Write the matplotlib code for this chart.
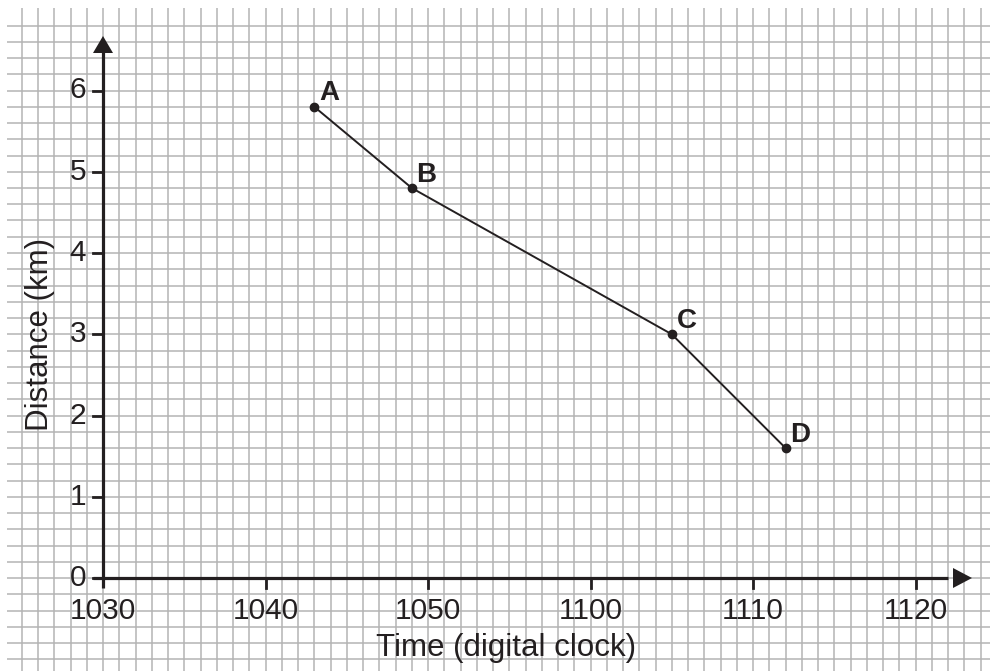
import matplotlib
matplotlib.use("Agg")
import matplotlib.pyplot as plt

# points
labels = ["A", "B", "C", "D"]
clock_times = [1043, 1049, 1105, 1112]
distances = [5.8, 4.8, 3.0, 1.6]

x_tick_clock = [1030, 1040, 1050, 1100, 1110, 1120]
y_ticks = [0, 1, 2, 3, 4, 5, 6]

plt.rcParams['font.family'] = ['Liberation Sans', 'DejaVu Sans']


def to_minutes(t):
    # digital clock reading -> minutes after 10:30
    return (t // 100) * 60 + t % 100 - (10 * 60 + 30)


xs = [to_minutes(t) for t in clock_times]
x_ticks = [to_minutes(t) for t in x_tick_clock]

W, H = 990, 671
ox, oy = 103, 578          # pixel position of the origin
sq = 16.25                 # pixels per small square (1 minute, 0.2 km)

fig = plt.figure(figsize=(W / 100, H / 100), dpi=100)
ax = fig.add_axes([0, 0, 1, 1])
ax.set_xlim(-ox / sq, (W - ox) / sq)
ax.set_ylim(-(H - oy) / (sq * 5), oy / (sq * 5))
ax.axis('off')

# graph paper
gcol = '#b4b4b4'
grid_left = (7 - ox) / sq
grid_top = (oy - 8) / (sq * 5)
for k in range(-5, 55):
    ax.vlines(k, -2, grid_top, color=gcol, lw=1.1, zorder=1)
for k in range(-5, 35):
    ax.hlines(k / 5, grid_left, 70, color=gcol, lw=1.1, zorder=1)

# axes with arrows
ax.plot([-10 / sq, 52], [0, 0], color='#231f20', lw=2.3, zorder=3, solid_capstyle='butt')
ax.plot([0, 0], [-10 / (sq * 5), 6.6], color='#231f20', lw=2.3, zorder=3, solid_capstyle='butt')
ax.fill([(953 - ox) / sq, (972 - ox) / sq, (953 - ox) / sq],
        [10 / (sq * 5), 0, -10 / (sq * 5)], color='#231f20', zorder=4, lw=0)
ax.fill([-10 / sq, 0, 10 / sq],
        [(oy - 53) / (sq * 5), (oy - 36) / (sq * 5), (oy - 53) / (sq * 5)],
        color='#231f20', zorder=4, lw=0)

# ticks and tick labels
for xt, lab in zip(x_ticks, x_tick_clock):
    if xt != 0:
        ax.plot([xt, xt], [0, -10 / (sq * 5)], color='#231f20', lw=2, zorder=3)
    ax.text(xt, -33 / (sq * 5), str(lab), ha='center', va='center', fontsize=21.5,
            color='#231f20', zorder=5)
for yt in y_ticks:
    ax.plot([-10 / sq, 0], [yt, yt], color='#231f20', lw=2, zorder=3)
    ax.text(-17 / sq, yt, str(yt), ha='right', va='center', fontsize=21.5,
            color='#231f20', zorder=5)

ax.text((506 - ox) / sq, (oy - 648) / (sq * 5), 'Time (digital clock)', ha='center',
        va='center', fontsize=22.5, color='#231f20', zorder=5)
ax.text((40 - ox) / sq, (oy - 334) / (sq * 5), 'Distance (km)', ha='center',
        va='center', rotation=90, fontsize=22.5, color='#231f20', zorder=5)

# the journey
ax.plot(xs, distances, color='#231f20', lw=1.4, zorder=6)
ax.plot(xs, distances, 'o', color='#231f20', ms=6, zorder=7)
for x, y, lab in zip(xs, distances, labels):
    ax.annotate(lab, (x, y), xytext=(3.5, 4.5), textcoords='offset points',
                ha='left', va='baseline', fontsize=20, fontweight='bold',
                color='#231f20', zorder=8)

fig.savefig('out.png', dpi=100)
